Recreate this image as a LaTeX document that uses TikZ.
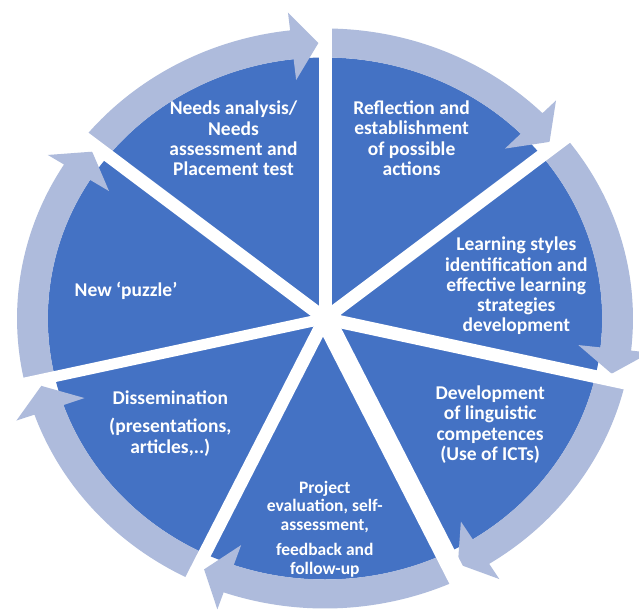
\documentclass[tikz,border=0pt]{standalone}
\usepackage{fontspec}
\setmainfont{Carlito}
\definecolor{segblue}{RGB}{68,114,196}
\definecolor{ringblue}{RGB}{174,187,220}
\tikzset{
  seglabel/.style={text=white, inner sep=0pt, anchor=base,
    font=\fontsize{19.5}{20.3}\selectfont\bfseries},
  smalllabel/.style={seglabel, font=\fontsize{17.5}{18.5}\selectfont\bfseries},
}
\begin{document}
\begin{tikzpicture}[x=1pt,y=1pt]
\useasboundingbox (-325,-291.5) rectangle (314,318.5);
\fill[white] (-325,-291.5) rectangle (314,318.5);
\begin{scope}[xscale=1.062]
  \fill[segblue] (0,0) circle (261);
  \foreach \b in {90, 38.5714, -12.8571, -64.2857, -115.7143, -167.1429, -218.5714} {
    \pgfmathsetmacro\a{\b+51.4286}
    \pgfmathsetmacro\h{\b+6.5}
    \pgfmathsetmacro\t{\b+1.3}
    \fill[ringblue] (\a:290) arc[start angle=\a, end angle=\h, radius=290]
      -- (\h:308) -- (\t:275.5) -- (\h:240) -- (\h:261)
      arc[start angle=\h, end angle=\a, radius=261] -- cycle;
  }
  \foreach \d/\w in {90/13, 38.5714/13, -12.8571/13, -64.2857/20, -115.7143/13, -167.1429/11, 141.4286/13}
    \draw[white, line width=\w pt] (0,0) -- (\d:335);
\end{scope}
\node[seglabel] (needs) at (-91.5,203.5)
  {\begin{tabular}[t]{@{}c@{}}Needs analysis/\\Needs\\assessment and\\Placement test\end{tabular}};
\node[seglabel] (reflection) at (86.6,204)
  {\begin{tabular}[t]{@{}c@{}}Reflection and\\establishment\\of possible\\actions\end{tabular}};
\node[seglabel] (learning) at (191.3,67.7)
  {\begin{tabular}[t]{@{}c@{}}Learning styles\\identification and\\effective learning\\strategies\\development\end{tabular}};
\node[seglabel] (development) at (165.2,-81)
  {\begin{tabular}[t]{@{}c@{}}Development\\of linguistic\\competences\\(Use of ICTs)\end{tabular}};
\node[smalllabel] (project) at (-0.2,-174.5)
  {\begin{tabular}[t]{@{}c@{}}Project\\evaluation, self-\\assessment,\\[7pt]feedback and\\follow-up\end{tabular}};
\node[seglabel] (dissemination) at (-154.7,-86)
  {\begin{tabular}[t]{@{}c@{}}Dissemination\\[7.7pt](presentations,\\articles,..)\end{tabular}};
\node[seglabel] (puzzle) at (-199,22.5) {New ‘puzzle’};
\end{tikzpicture}
\end{document}
